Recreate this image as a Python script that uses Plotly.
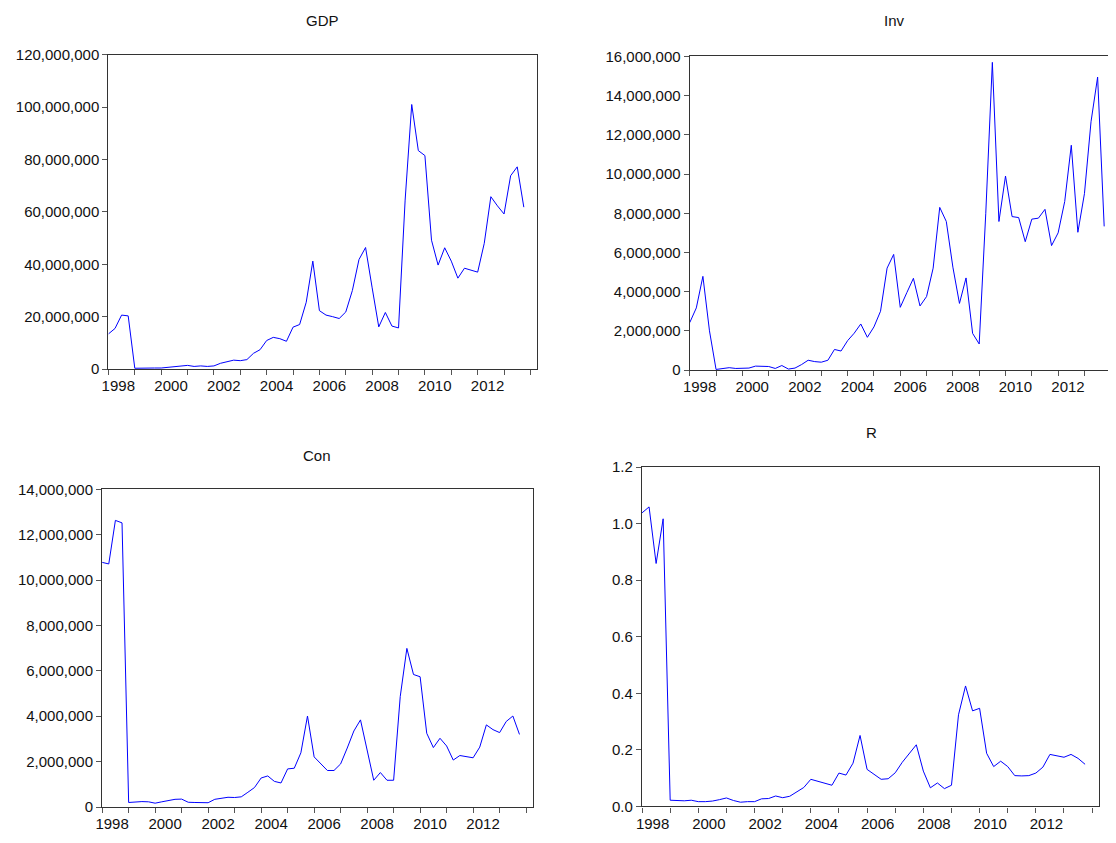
import plotly.graph_objects as go
import numpy as np

# Quarterly observations 1998Q1 - 2013Q4 (64 obs)
years = list(range(1998, 2014))
year_labels = [str(y) for y in range(1998, 2014, 2)]

# GDP (millions)
gdp_m = [13.4, 15.5, 20.6, 20.3, 0.3, 0.4, 0.4, 0.4, 0.4, 0.7, 1.0, 1.2, 1.4, 1.0, 1.2, 1.0,
         1.2, 2.2, 2.8, 3.4, 3.2, 3.6, 6.0, 7.4, 10.9, 12.1, 11.6, 10.6, 16.0, 17.0, 25.5, 41.2,
         22.3, 20.6, 20.0, 19.3, 21.8, 30.0, 41.8, 46.4, 31.0, 16.1, 21.6, 16.4, 15.7, 64.5, 101.0, 83.4,
         81.5, 49.2, 39.7, 46.3, 41.2, 34.7, 38.5, 37.8, 37.0, 48.0, 65.8, 62.3, 59.2, 73.8, 77.2, 61.8]
# Inv (millions)
inv_m = [2.42, 3.17, 4.78, 2.0, 0.03, 0.08, 0.12, 0.08, 0.08, 0.1, 0.2, 0.18, 0.18, 0.08, 0.23, 0.05,
         0.1, 0.28, 0.5, 0.43, 0.4, 0.5, 1.05, 0.97, 1.5, 1.88, 2.35, 1.67, 2.2, 3.0, 5.2, 5.9,
         3.2, 3.95, 4.68, 3.27, 3.75, 5.2, 8.3, 7.58, 5.25, 3.4, 4.7, 1.87, 1.33, 8.0, 15.7, 7.58,
         9.9, 7.83, 7.78, 6.55, 7.7, 7.75, 8.2, 6.35, 7.0, 8.6, 11.47, 7.03, 9.0, 12.67, 14.95, 7.33]
# Con (millions)
con_m = [10.78, 10.71, 12.63, 12.52, 0.2, 0.23, 0.24, 0.23, 0.17, 0.23, 0.29, 0.34, 0.35, 0.21, 0.2, 0.18,
         0.19, 0.34, 0.37, 0.43, 0.42, 0.45, 0.65, 0.86, 1.28, 1.37, 1.13, 1.06, 1.68, 1.71, 2.39, 4.01,
         2.21, 1.93, 1.61, 1.61, 1.9, 2.6, 3.35, 3.84, 2.53, 1.18, 1.52, 1.18, 1.18, 4.87, 6.99, 5.84,
         5.74, 3.25, 2.62, 3.03, 2.69, 2.07, 2.27, 2.23, 2.17, 2.64, 3.62, 3.41, 3.28, 3.77, 4.01, 3.2]
# R
r_vals = [1.038, 1.059, 0.859, 1.017, 0.022, 0.021, 0.020, 0.022, 0.017, 0.017, 0.019, 0.024, 0.030, 0.021, 0.015, 0.017,
          0.017, 0.027, 0.028, 0.037, 0.031, 0.036, 0.051, 0.067, 0.096, 0.089, 0.080, 0.075, 0.118, 0.111, 0.153, 0.251,
          0.131, 0.115, 0.096, 0.098, 0.119, 0.156, 0.188, 0.218, 0.125, 0.066, 0.083, 0.063, 0.075, 0.324, 0.426, 0.338,
          0.347, 0.188, 0.141, 0.160, 0.141, 0.109, 0.108, 0.109, 0.118, 0.139, 0.184, 0.179, 0.174, 0.184, 0.170, 0.149]

n_obs = len(years) * 4
x_idx = np.arange(n_obs)

W, H = 1116, 843
OFF = 8  # page body margin offset
FONT = "Liberation Sans, Arial, sans-serif"
AX = "#333333"

panels = [
    # name, values, scale, x px (l, r), y px (top, bottom), x range max, y max, dtick, fmt, mirror y
    ("GDP", gdp_m, 1e6, (102, 533.3), (46.5, 367.3), 65, 120e6, 20e6, ",d", True),
    ("Inv", inv_m, 1e6, (687, 1116), (48.3, 368.3), (1116 - 687) / 6.62, 16e6, 2e6, ",d", False),
    ("Con", con_m, 1e6, (95.7, 529), (490.0, 814.3), 65, 14e6, 2e6, ",d", True),
    ("R", r_vals, 1.0, (639, 1099), (467.3, 813.7), 65, 1.2, 0.2, ".1f", True),
]
title_pos = [(317, 12), (893, 12), (312, 456), (870, 432)]

fig = go.Figure()
annotations = []
for k, (name, vals, scale, (xl, xr), (yt, yb), xmax, ymax, dt, fmt, mir) in enumerate(panels):
    sfx = "" if k == 0 else str(k + 1)
    xl, xr, yt, yb = xl - OFF, xr - OFF, yt - OFF, yb - OFF
    fig.add_trace(go.Scatter(x=x_idx, y=np.array(vals) * scale, mode="lines",
                             line=dict(color="#0000FF", width=1),
                             xaxis="x" + sfx, yaxis="y" + sfx, showlegend=False,
                             hoverinfo="skip"))
    xa = dict(domain=[xl / W, xr / W], range=[0, xmax], anchor="y" + sfx,
              showline=True, linecolor=AX, linewidth=1.3, mirror=True,
              showgrid=False, zeroline=False,
              tickmode="array", tickvals=[1.5 + 8 * j for j in range(len(year_labels))],
              ticktext=year_labels, ticks="", ticklabelstandoff=3,
              tickfont=dict(family=FONT, size=15, color="#111111"),
              minor=dict(tickmode="linear", tick0=0, dtick=4, ticks="outside",
                         ticklen=5, tickwidth=1, tickcolor="#555555", showgrid=False))
    ya = dict(domain=[1 - yb / H, 1 - yt / H], range=[0, ymax], anchor="x" + sfx,
              showline=True, linecolor=AX, linewidth=1.3, mirror=mir,
              showgrid=False, zeroline=False, tickmode="linear", tick0=0, dtick=dt,
              tickformat=fmt, ticks="outside", ticklen=5, tickwidth=1, tickcolor="#555555",
              tickfont=dict(family=FONT, size=15, color="#111111"))
    fig.update_layout(**{"xaxis" + sfx: xa, "yaxis" + sfx: ya})
    tx, ty = title_pos[k]
    annotations.append(dict(text=name, x=(tx - OFF) / W, y=1 - (ty - OFF) / H,
                            xref="paper", yref="paper",
                            xanchor="center", yanchor="middle", showarrow=False,
                            font=dict(family=FONT, size=15, color="#111111")))

fig.update_layout(width=W, height=H, margin=dict(l=0, r=0, t=0, b=0),
                  paper_bgcolor="white", plot_bgcolor="white",
                  annotations=annotations, showlegend=False)
fig.write_html("out.html")
